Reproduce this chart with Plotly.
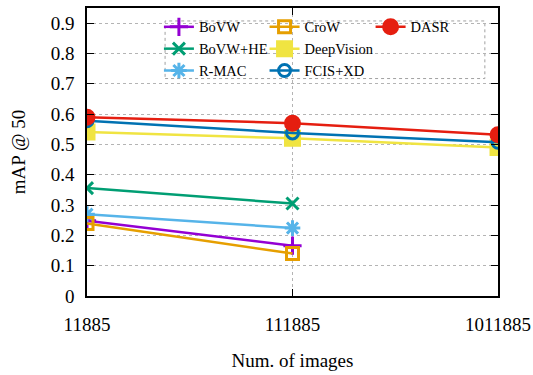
import plotly.graph_objects as go

x_labels = ["11885", "111885", "1011885"]

bovw = [0.248, 0.166]
bovw_he = [0.356, 0.305]
rmac = [0.27, 0.224]
crow = [0.239, 0.14]
deepvision = [0.541, 0.52, 0.49]
fcis_xd = [0.578, 0.538, 0.507]
dasr = [0.59, 0.57, 0.532]

series = [
    ("BoVW", bovw, "#9400d3", "cross-thin-open", 13, "legend"),
    ("BoVW+HE", bovw_he, "#009e73", "x-thin-open", 12, "legend"),
    ("R-MAC", rmac, "#56b4e9", "asterisk-open", 13, "legend"),
    ("CroW", crow, "#e69f00", "square-open", 12, "legend2"),
    ("DeepVision", deepvision, "#f0e442", "square", 14, "legend2"),
    ("FCIS+XD", fcis_xd, "#0072b2", "circle-open", 12, "legend2"),
    ("DASR", dasr, "#e51e10", "circle", 14, "legend3"),
]

fig = go.Figure()
for name, vals, color, sym, size, lg in series:
    fig.add_trace(go.Scatter(
        x=x_labels[:len(vals)], y=vals, name=name, mode="lines+markers",
        line=dict(color=color, width=2.5),
        marker=dict(symbol=sym, size=size, color=color,
                    line=dict(color=color, width=3)),
        legend=lg,
    ))

font_family = "'Liberation Serif', 'Times New Roman', serif"
leg_common = dict(font=dict(family=font_family, size=14.5, color="black"),
                  bgcolor="rgba(0,0,0,0)", borderwidth=0, yanchor="top",
                  xanchor="left", itemwidth=30, tracegroupgap=0)

fig.update_layout(
    width=533, height=375,
    margin=dict(l=87, r=35, t=8, b=79),
    plot_bgcolor="white", paper_bgcolor="white",
    font=dict(family=font_family, size=19, color="black"),
    legend=dict(x=0.175, y=0.99, **leg_common),
    legend2=dict(x=0.432, y=0.99, **leg_common),
    legend3=dict(x=0.69, y=0.99, **leg_common),
    xaxis=dict(
        type="category", categoryorder="array", categoryarray=x_labels,
        range=[0, 2], showline=True, linecolor="black", linewidth=1.5,
        mirror="ticks", ticks="inside", ticklen=7, tickcolor="black",
        showgrid=True, gridcolor="#b4b4b4", griddash="dot", gridwidth=1,
        ticklabelstandoff=10, automargin=False,
        title=dict(text="Num. of images", standoff=20,
                   font=dict(family=font_family, size=19)),
        tickfont=dict(family=font_family, size=19),
        zeroline=False,
    ),
    yaxis=dict(
        range=[0, 0.95], tickvals=[0, 0.1, 0.2, 0.3, 0.4, 0.5, 0.6, 0.7, 0.8, 0.9],
        ticktext=["0", "0.1", "0.2", "0.3", "0.4", "0.5", "0.6", "0.7", "0.8", "0.9"],
        showline=True, linecolor="black", linewidth=1.5,
        mirror="ticks", ticks="inside", ticklen=7, tickcolor="black",
        showgrid=True, gridcolor="#b4b4b4", griddash="dot", gridwidth=1,
        zeroline=False, automargin=False, ticklabelstandoff=7,
        title=dict(text="mAP @ 50", standoff=20,
                   font=dict(family=font_family, size=19)),
        tickfont=dict(family=font_family, size=19),
    ),
    shapes=[dict(type="rect", xref="paper", yref="paper",
                 x0=0.19, x1=0.968, y0=0.755, y1=0.955,
                 line=dict(color="#a0a0a0", width=1, dash="dot"),
                 fillcolor="white", layer="below")],
)

fig.write_html("out.html", config={"displayModeBar": False},
               post_script="document.body.style.margin='0';document.body.style.padding='0';")
